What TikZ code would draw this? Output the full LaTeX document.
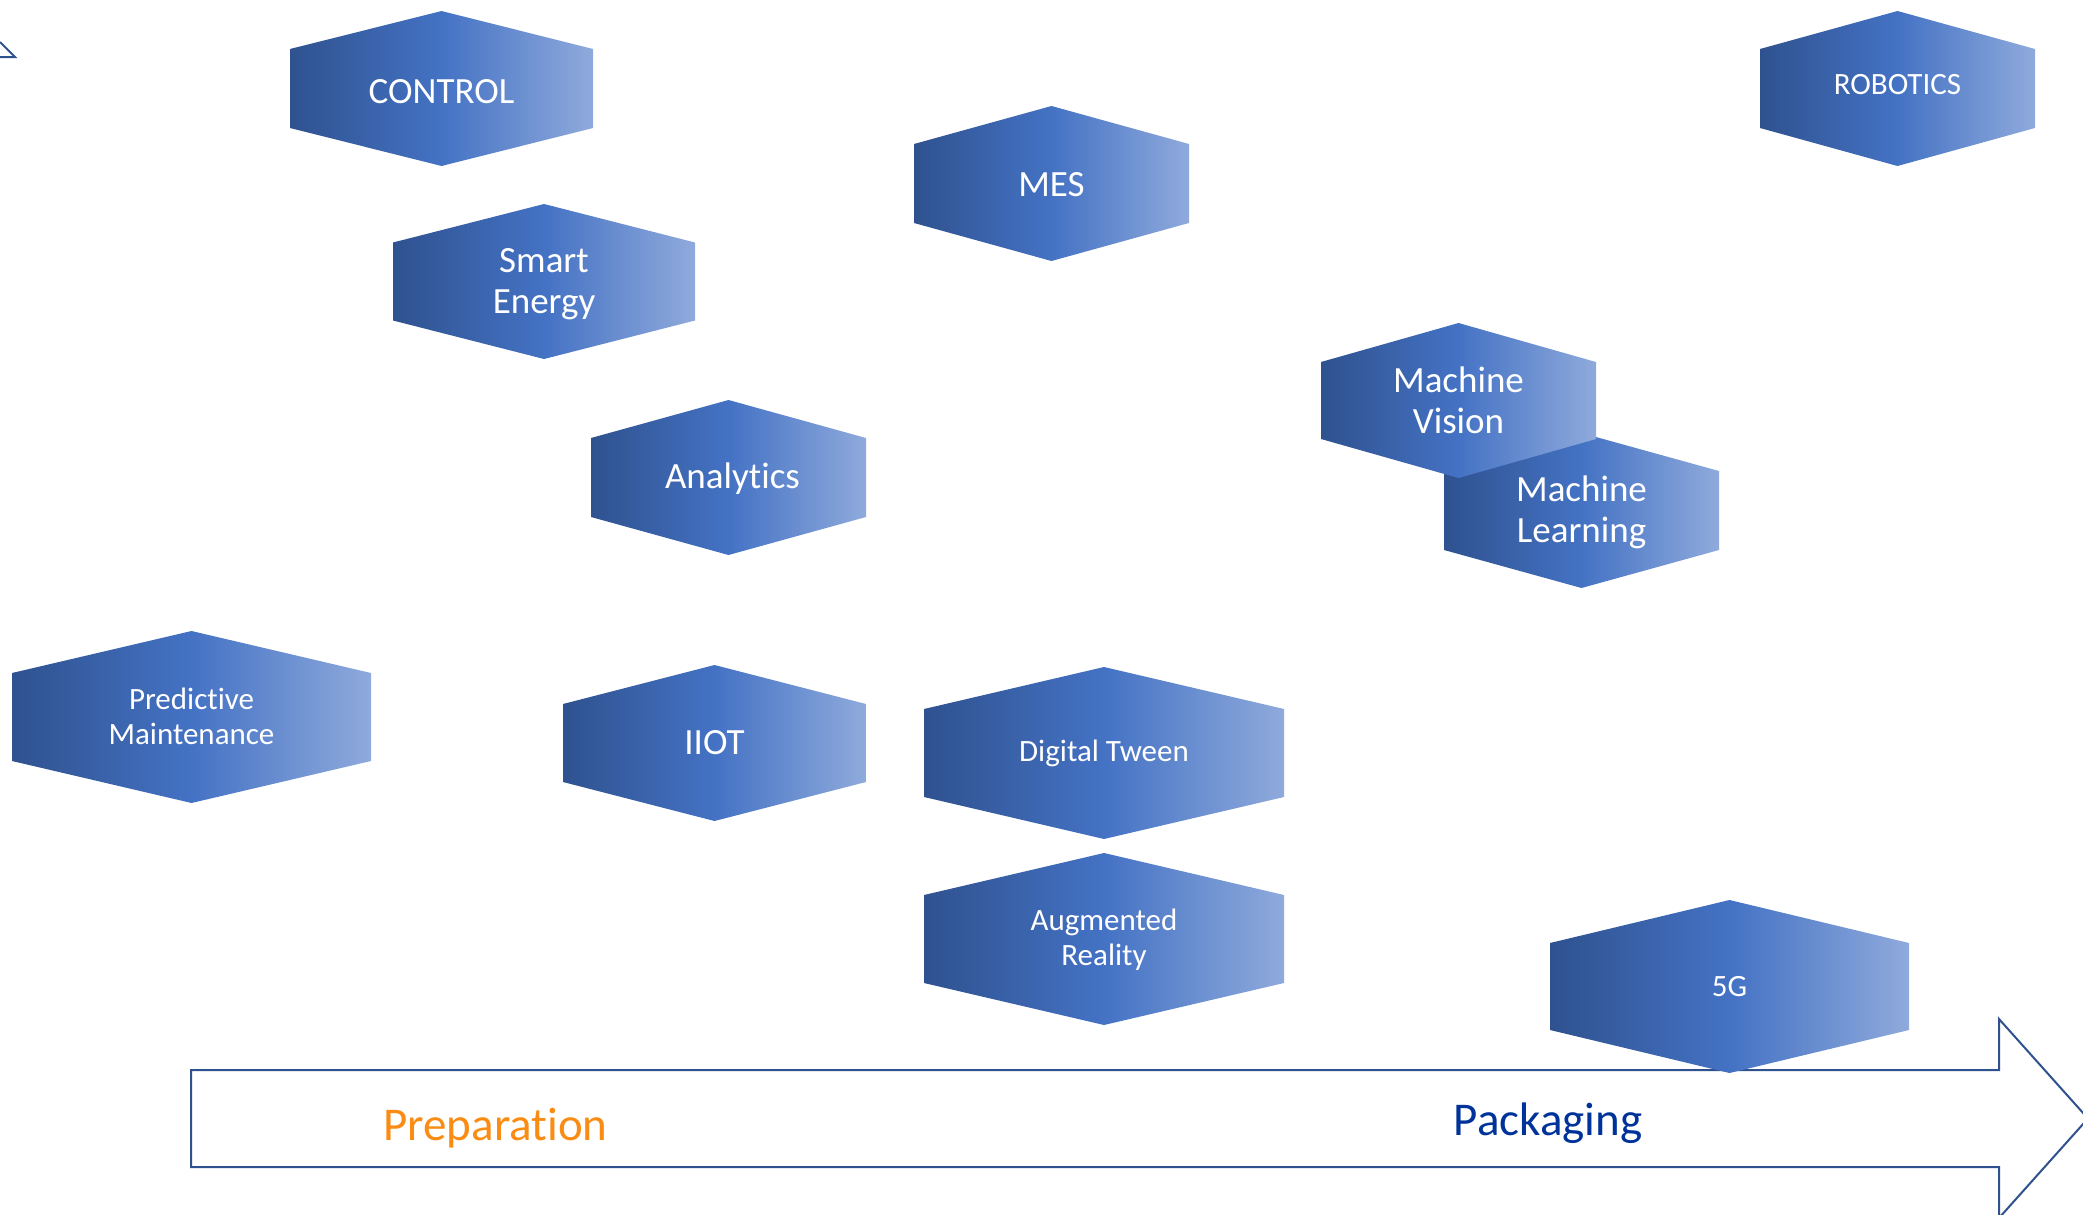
\documentclass[tikz,border=0pt]{standalone}
\usepackage{fontspec}
\setmainfont[Ligatures=NoCommon]{Carlito}
\usetikzlibrary{positioning}

\definecolor{hexdark}{RGB}{47,82,143}
\definecolor{hexmid}{RGB}{68,114,196}
\definecolor{hexlight}{RGB}{143,170,220}
\definecolor{prepcolor}{RGB}{250,140,20}
\definecolor{packcolor}{RGB}{0,51,153}

% name, text style, centre x, centre y, half width, half height, tip depth, text
\newcommand{\hexa}[8]{%
	\path[hexfill] (#3-#5,#4-#6+#7) -- (#3,#4-#6) -- (#3+#5,#4-#6+#7)
		-- (#3+#5,#4+#6-#7) -- (#3,#4+#6) -- (#3-#5,#4+#6-#7) -- cycle;
	\node[#2] (#1) at (#3,#4) {#8};}

\begin{document}
\begin{tikzpicture}[x=0.5pt,y=-0.5pt]
					\tikzstyle{hexfill}=[left color=hexdark,right color=hexlight,middle color=hexmid]
					\tikzstyle{bigtext}=[text=white,align=center,inner sep=0pt,font=\fontsize{18.5}{20.5}\selectfont]
					\tikzstyle{smalltext}=[text=white,align=center,inner sep=0pt,font=\fontsize{15.5}{17.5}\selectfont]
					\tikzstyle{stagetext}=[anchor=base,inner sep=0pt,font=\fontsize{23.5}{28}\selectfont]
					\tikzstyle{arrowline}=[draw=hexdark,line width=1pt,line join=miter]
					
					\useasboundingbox (0,0) rectangle (2083,1215);
					
					\draw[arrowline] (0,42) -- (15,57) -- (0,57);
					\draw[arrowline,fill=white] (191,1070) -- (1999,1070) -- (1999,1019) -- (2088,1118.5)
						-- (1999,1218) -- (1999,1167) -- (191,1167) -- cycle;
					
					\hexa{control}{bigtext,yshift=-1.5pt}{441.5}{88.5}{151.5}{77.5}{38}{CONTROL}
					\hexa{robotics}{smalltext,yshift=2pt}{1897.5}{88.5}{137.5}{77.5}{38}{ROBOTICS}
					\hexa{mes}{bigtext,yshift=-0.5pt}{1051.5}{183.5}{137.5}{77.5}{38}{MES}
					\hexa{energy}{bigtext,yshift=-1.5pt}{544}{281.5}{151}{77.5}{38.5}{Smart\\Energy}
					\hexa{analytics}{bigtext,xshift=2pt,yshift=-0.5pt}{728.5}{477.5}{137.5}{77.5}{38}{Analytics}
					\hexa{learning}{bigtext,yshift=-1pt}{1581.5}{510.5}{137.5}{77.5}{38}{Machine\\Learning}
					\hexa{vision}{bigtext}{1458.5}{400.5}{137.5}{77.5}{39}{Machine\\Vision}
					\hexa{predictive}{smalltext,yshift=0.5pt}{191.5}{717}{179.5}{86}{42}{Predictive\\Maintenance}
					\hexa{iiot}{bigtext}{714.5}{743}{151.5}{78}{39}{IIOT}
					\hexa{tween}{smalltext}{1104}{753}{180}{86}{42}{Digital Tween}
					\hexa{augmented}{smalltext,yshift=-0.5pt}{1104}{939}{180}{86}{42}{Augmented\\Reality}
					\hexa{fiveg}{smalltext}{1729.5}{986.5}{179.5}{86.5}{43}{5G}
					
					\node[stagetext,text=prepcolor] (prep) at (495.5,1140) {Preparation};
					\node[stagetext,text=packcolor] (pack) at (1548,1135) {Packaging};
\end{tikzpicture}
\end{document}
